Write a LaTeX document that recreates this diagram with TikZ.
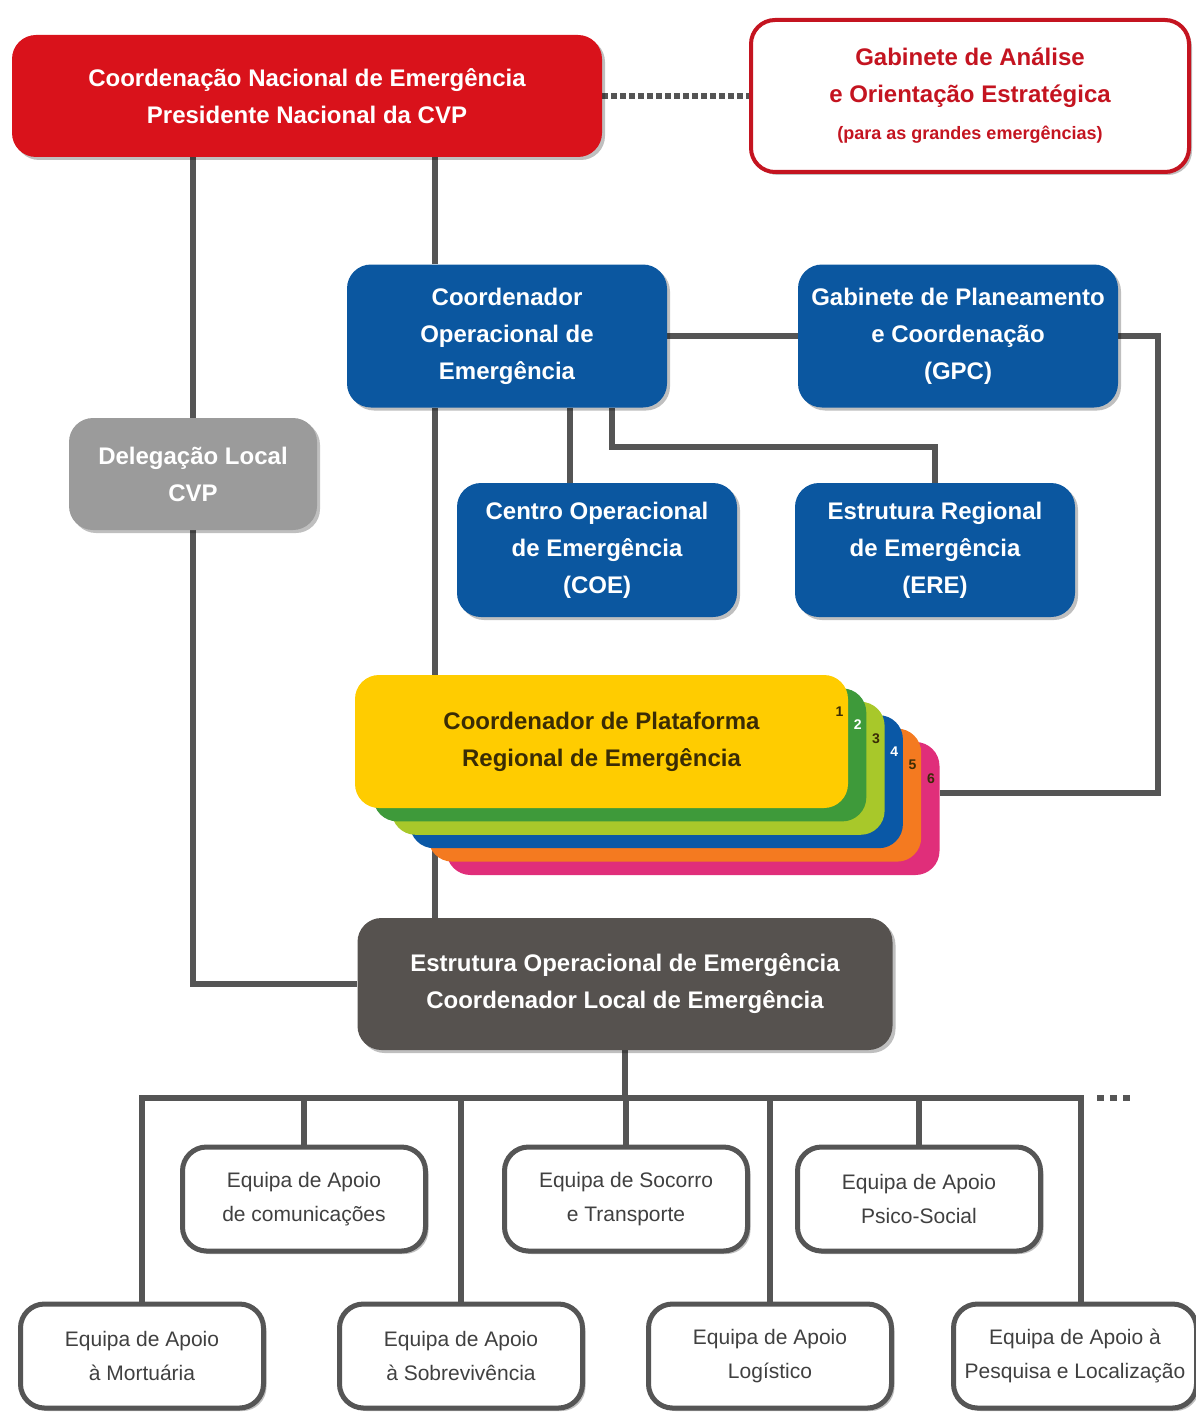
\documentclass[tikz,border=0pt]{standalone}
\usepackage{fontspec}
\setmainfont{Liberation Sans}
\usetikzlibrary{calc, shadows, backgrounds}

% --- Colours ---
\definecolor{cvpred}{HTML}{D9121B}
\definecolor{cvpdarkred}{HTML}{C41420}
\definecolor{cvpblue}{HTML}{0B57A0}
\definecolor{linegray}{HTML}{555555}
\definecolor{delgray}{HTML}{9B9B9B}
\definecolor{eoegray}{HTML}{56524F}
\definecolor{teamtext}{HTML}{404040}
\definecolor{plattext}{HTML}{3A2C05}
\definecolor{platyellow}{HTML}{FFCC00}
\definecolor{platgreen}{HTML}{3E9A3A}
\definecolor{platlime}{HTML}{A8C82A}
\definecolor{platblue}{HTML}{0A58A6}
\definecolor{platorange}{HTML}{F47A20}
\definecolor{platpink}{HTML}{E02E7A}

\tikzset{
  link/.style={draw=linegray, line width=3pt},
  rbox/.style={rectangle, rounded corners=12pt, align=center, inner sep=2pt},
  card/.style={rbox, drop shadow={shadow xshift=1.5pt, shadow yshift=-1.5pt, opacity=0.25, fill=black}},
  headbox/.style={card, font=\fontsize{12}{18.5}\selectfont\bfseries, text=white},
  redbox/.style={headbox, fill=cvpred, minimum width=295pt, minimum height=61pt},
  analysebox/.style={card, draw=cvpdarkred, line width=2pt, fill=white, text=cvpdarkred,
    font=\fontsize{12}{18.5}\selectfont\bfseries, minimum width=219pt, minimum height=76pt},
  bluebox/.style={headbox, fill=cvpblue, minimum width=160pt, minimum height=71.5pt},
  subbluebox/.style={headbox, fill=cvpblue, minimum width=140pt, minimum height=67pt},
  delbox/.style={headbox, fill=delgray, minimum width=124pt, minimum height=56pt},
  eoebox/.style={headbox, fill=eoegray, minimum width=267.5pt, minimum height=66pt},
  platcard/.style={rbox, minimum width=246.5pt, minimum height=66.5pt},
  platnum/.style={font=\fontsize{7}{7}\selectfont\bfseries, inner sep=0pt},
  teambox/.style={card, draw=linegray, line width=2.5pt, fill=white, text=teamtext,
    font=\fontsize{10.5}{17}\selectfont, minimum width=121.5pt, minimum height=52pt},
}

\begin{document}
\begin{tikzpicture}[x=0.5pt, y=-0.5pt]

\useasboundingbox (0,0) rectangle (1195,1412);

% --- Top level ---
\node[redbox] (cne) at (307,96) {Coordenação Nacional de Emergência\\Presidente Nacional da CVP};
\node[analysebox] (gaoe) at (970,96) {Gabinete de Análise\\e Orientação Estratégica\\
  {\fontsize{9}{14}\selectfont (para as grandes emergências)}};

% --- Operational coordination ---
\node[bluebox] (coordop) at (507,336) {Coordenador\\Operacional de\\Emergência};
\node[bluebox] (gpc) at (958,336) {Gabinete de Planeamento\\e Coordenação\\(GPC)};
\node[delbox] (deleg) at (193,474) {Delegação Local\\CVP};
\node[subbluebox] (centro) at (597,550) {Centro Operacional\\de Emergência\\(COE)};
\node[subbluebox] (ere) at (935,550) {Estrutura Regional\\de Emergência\\(ERE)};

% --- Regional platforms (stacked cards 6 ... 1) ---
\foreach \i/\col/\numcol in {5/platpink/plattext, 4/platorange/plattext, 3/platblue/white,
                            2/platlime/plattext, 1/platgreen/white, 0/platyellow/plattext} {
  \node[platcard, fill=\col] (plat\i) at ({601.5+18.3*\i},{741.5+13.4*\i}) {};
  \pgfmathtruncatemacro{\lbl}{\i+1}
  \node[platnum, text=\numcol] (num\i) at ([xshift=-4.5pt, yshift=-18.5pt]plat\i.north east) {\lbl};
}
\node[font=\fontsize{12}{18.5}\selectfont\bfseries, text=plattext, align=center] (plattitle)
  at (plat0) {Coordenador de Plataforma\\Regional de Emergência};

% --- Local level ---
\node[eoebox] (eoe) at (625,984) {Estrutura Operacional de Emergência\\Coordenador Local de Emergência};

% --- Teams ---
\node[teambox] (comun)   at (304,1199) {Equipa de Apoio\\de comunicações};
\node[teambox] (socorro) at (626,1199) {Equipa de Socorro\\e Transporte};
\node[teambox] (psico)   at (919,1199) {Equipa de Apoio\\Psico-Social};
\node[teambox] (mortu)   at (142,1356) {Equipa de Apoio\\à Mortuária};
\node[teambox] (sobrev)  at (461,1356) {Equipa de Apoio\\à Sobrevivência};
\node[teambox] (logist)  at (770,1356) {Equipa de Apoio\\Logístico};
\node[teambox] (pesq)    at (1075,1356) {Equipa de Apoio à\\Pesquisa e Localização};

% helper points for the connectors
\coordinate (spine) at (435,0);
\coordinate (coeline) at (570,0);
\coordinate (erebend) at (612,447);
\coordinate (gpcback) at (1158,0);
\coordinate (pesqline) at (1081,0);
\coordinate (bus) at (0,1098);

% --- Connectors ---
\begin{scope}[on background layer]
  \draw[link, line width=3pt, dash pattern=on 3pt off 1.5pt] (cne.east) -- (gaoe.west);
  \draw[link] (cne.south -| deleg.north) -- (deleg.north);
  \draw[link] (deleg.south) |- (eoe.west);
  \draw[link] (cne.south -| spine) -- (coordop.north -| spine);
  \draw[link] (coordop.south -| spine) -- (eoe.north -| spine);
  \draw[link] (coordop.east) -- (gpc.west);
  \draw[link] (gpc.east) -- (gpc.east -| gpcback) |- ([yshift=8pt]plat5.east);
  \draw[link] (coordop.south -| coeline) -- (centro.north -| coeline);
  \draw[link] (coordop.south -| erebend) -- (erebend) -| (ere.north);
  \draw[link] (eoe.south) -- (eoe.south |- bus);
  \draw[link] (mortu.north) -- (mortu.north |- bus) -- (pesqline |- bus) -- (pesq.north -| pesqline);
  \foreach \t in {comun, socorro, psico, sobrev, logist}
    \draw[link] (\t.north) -- (\t.north |- bus);
  \draw[link, dash pattern=on 3.5pt off 3pt] ($(pesqline |- bus)+(16,0)$) -- ++(35,0);
\end{scope}

\end{tikzpicture}
\end{document}
